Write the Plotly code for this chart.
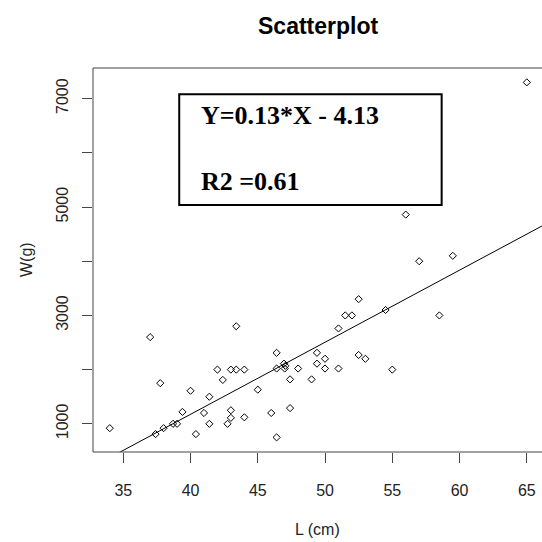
import plotly.graph_objects as go

# Data
length_cm = [34, 37, 37.4, 37.75, 38, 38.7, 39, 39.4, 40, 40.4, 41, 41.4, 41.4, 42,
             42.4, 42.75, 43, 43, 43, 43.4, 43.4, 44, 44, 45, 46, 46.4, 46.4, 46.4,
             46.95, 47.05, 47, 48, 47.4, 47.4, 49.4, 49.4, 50, 50, 49, 51, 51, 51.5,
             52, 52.5, 52.5, 53, 54.5, 55, 56, 57, 58.5, 59.5, 65]
weight_g = [920, 2600, 810, 1750, 920, 1000, 1000, 1220, 1610, 810, 1200, 1500, 1000, 2000,
            1810, 1000, 1250, 1110, 2000, 2800, 2000, 2000, 1120, 1630, 1200, 2310, 2020, 750,
            2110, 2070, 2020, 2020, 1820, 1290, 2310, 2110, 2200, 2020, 1820, 2020, 2760, 3000,
            3000, 3300, 2270, 2200, 3100, 2000, 4860, 4000, 3000, 4100, 7300]

fit_slope = 133.0      # g per cm (as drawn)
fit_intercept = -4145.0
eq_text = "Y=0.13*X - 4.13"
r2_text = "R2 =0.61"

x_range = [32.75, 66.13]
y_range = [480, 7565]
x_ticks = [35, 40, 45, 50, 55, 60, 65]
y_ticks = [1000, 2000, 3000, 4000, 5000, 6000, 7000]
y_ticktext = ["1000", "", "3000", "", "5000", "", "7000"]

fig = go.Figure()
fig.add_trace(go.Scatter(
    x=length_cm, y=weight_g, mode="markers",
    marker=dict(symbol="diamond-open", size=5.5, color="black", line=dict(width=1, color="black")),
    showlegend=False, hoverinfo="skip"))

line_x = x_range
line_y = [fit_slope * v + fit_intercept for v in line_x]
fig.add_trace(go.Scatter(x=line_x, y=line_y, mode="lines",
                         line=dict(color="black", width=1), showlegend=False, hoverinfo="skip"))

tickfont = dict(family="Liberation Sans, Arial, sans-serif", size=16, color="#222")
boxfont = dict(family="Liberation Serif, Times New Roman, serif", size=26, color="black")
fig.update_layout(
    width=542, height=542,
    margin=dict(l=93, r=0, t=68, b=90),
    paper_bgcolor="white", plot_bgcolor="white",
    xaxis=dict(range=x_range, tickvals=x_ticks, ticks="outside", ticklen=10, tickcolor="#444",
               showgrid=False, zeroline=False, showline=False, tickfont=tickfont,
               ticklabelstandoff=14),
    yaxis=dict(range=y_range, tickvals=y_ticks, ticktext=y_ticktext, ticks="outside", ticklen=10,
               tickcolor="#444", tickangle=-90, showgrid=False, zeroline=False, showline=False,
               tickfont=tickfont, ticklabelstandoff=8),
    shapes=[
        dict(type="rect", xref="paper", yref="paper", x0=0, x1=1.05, y0=0, y1=1,
             line=dict(color="#444", width=1)),
        dict(type="rect", xref="x", yref="y", x0=39.16, x1=58.67, y0=5037, y1=7079,
             line=dict(color="black", width=2)),
    ],
    annotations=[
        dict(text="<b>Scatterplot</b>", xref="paper", yref="paper", x=0.501, y=1.11,
             xanchor="center", yanchor="middle", showarrow=False,
             font=dict(family="Liberation Sans, Arial, sans-serif", size=23, color="black")),
        dict(text="L (cm)", xref="paper", yref="paper", x=0.501, y=-0.203,
             xanchor="center", yanchor="middle", showarrow=False, font=tickfont),
        dict(text="W(g)", xref="paper", yref="paper", x=(26 - 93) / 449, y=0.5, textangle=-90,
             xanchor="center", yanchor="middle", showarrow=False, font=tickfont),
        dict(text="<b>" + eq_text + "</b>", xref="x", yref="y", x=40.6, y=6690,
             xanchor="left", yanchor="middle", showarrow=False, font=boxfont),
        dict(text="<b>" + r2_text + "</b>", xref="x", yref="y", x=40.6, y=5465,
             xanchor="left", yanchor="middle", showarrow=False, font=boxfont),
    ],
)

fig.write_html("out.html")
